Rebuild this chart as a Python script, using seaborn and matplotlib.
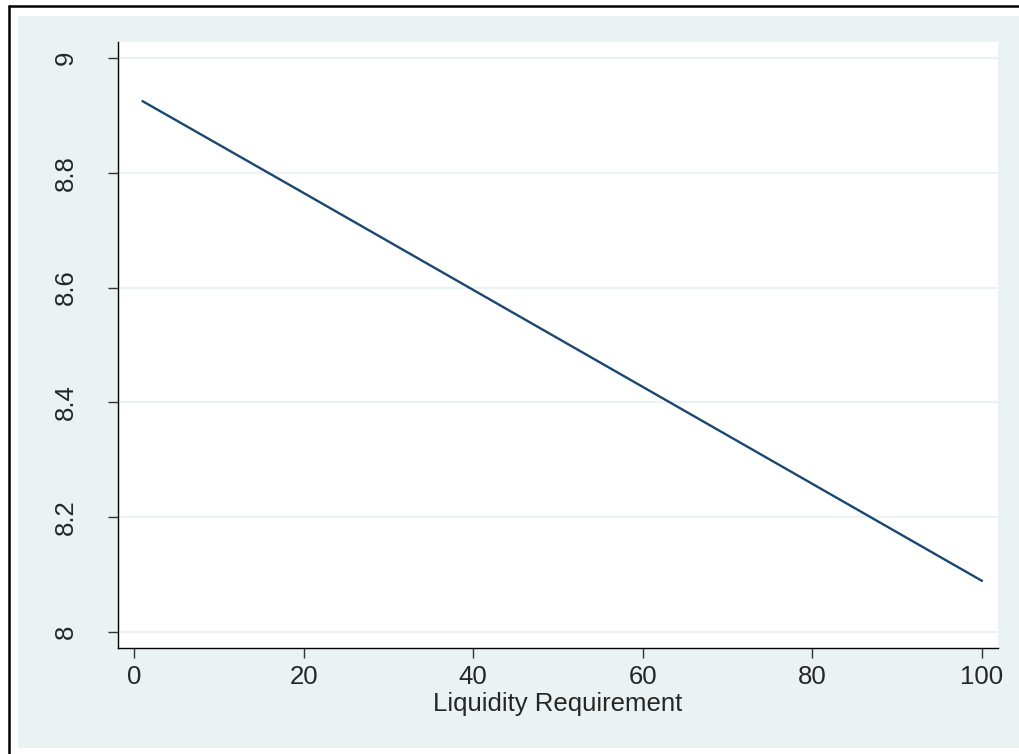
import matplotlib.pyplot as plt
import seaborn as sns
import pandas as pd
from matplotlib.patches import Rectangle
from matplotlib.lines import Line2D

# values
liquidity = [1, 20, 40, 60, 80, 100]
prediction = [8.925, 8.765, 8.596, 8.427, 8.258, 8.089]
x_ticks = [0, 20, 40, 60, 80, 100]
y_ticks = [8, 8.2, 8.4, 8.6, 8.8, 9]
y_labels = ["8", "8.2", "8.4", "8.6", "8.8", "9"]

df = pd.DataFrame({"Liquidity Requirement": liquidity, "y": prediction})

sns.set_style("white")
plt.rcParams["font.family"] = ["Liberation Sans", "DejaVu Sans"]

bg = "#EAF2F3"
fig = plt.figure(figsize=(10.19, 7.54), dpi=100)
W, H = 1019, 754

# stata style background panel and outer border
fig.patches.append(Rectangle((18 / W, 1 - 748 / H), (W - 18) / W, (748 - 16) / H,
                             transform=fig.transFigure, facecolor=bg, edgecolor="none", zorder=-10))
fig.add_artist(Line2D([8.5 / W, 8.5 / W], [0, 1 - 6 / H], color="black", lw=1.8, transform=fig.transFigure))
fig.add_artist(Line2D([8.5 / W, 1], [1 - 6 / H, 1 - 6 / H], color="black", lw=1.8, transform=fig.transFigure))

ax = fig.add_axes([118 / W, 1 - 648 / H, 880 / W, 606 / H])
ax.set_facecolor("white")

for t in y_ticks:
    ax.axhline(t, color=bg, lw=1.6, zorder=1)

sns.lineplot(data=df, x="Liquidity Requirement", y="y", ax=ax, color="#1A476F", lw=1.7, zorder=3)

ax.set_xlim(-1.887, 101.89)
ax.set_ylim(7.972, 9.028)
ax.set_xticks(x_ticks)
ax.set_yticks(y_ticks)
ax.set_yticklabels(y_labels, rotation=90, va="center")
ax.tick_params(axis="both", labelsize=18.5, length=7.2, width=1, color="#333333", direction="out")
ax.tick_params(axis="x", bottom=True, pad=5)
ax.tick_params(axis="y", left=True, pad=22)
ax.set_xlabel("Liquidity Requirement", fontsize=18.5, labelpad=2)
ax.set_ylabel("")

for s in ["top", "right"]:
    ax.spines[s].set_visible(False)
for s in ["left", "bottom"]:
    ax.spines[s].set_color("black")
    ax.spines[s].set_linewidth(1)

fig.savefig("out.png", dpi=100)
